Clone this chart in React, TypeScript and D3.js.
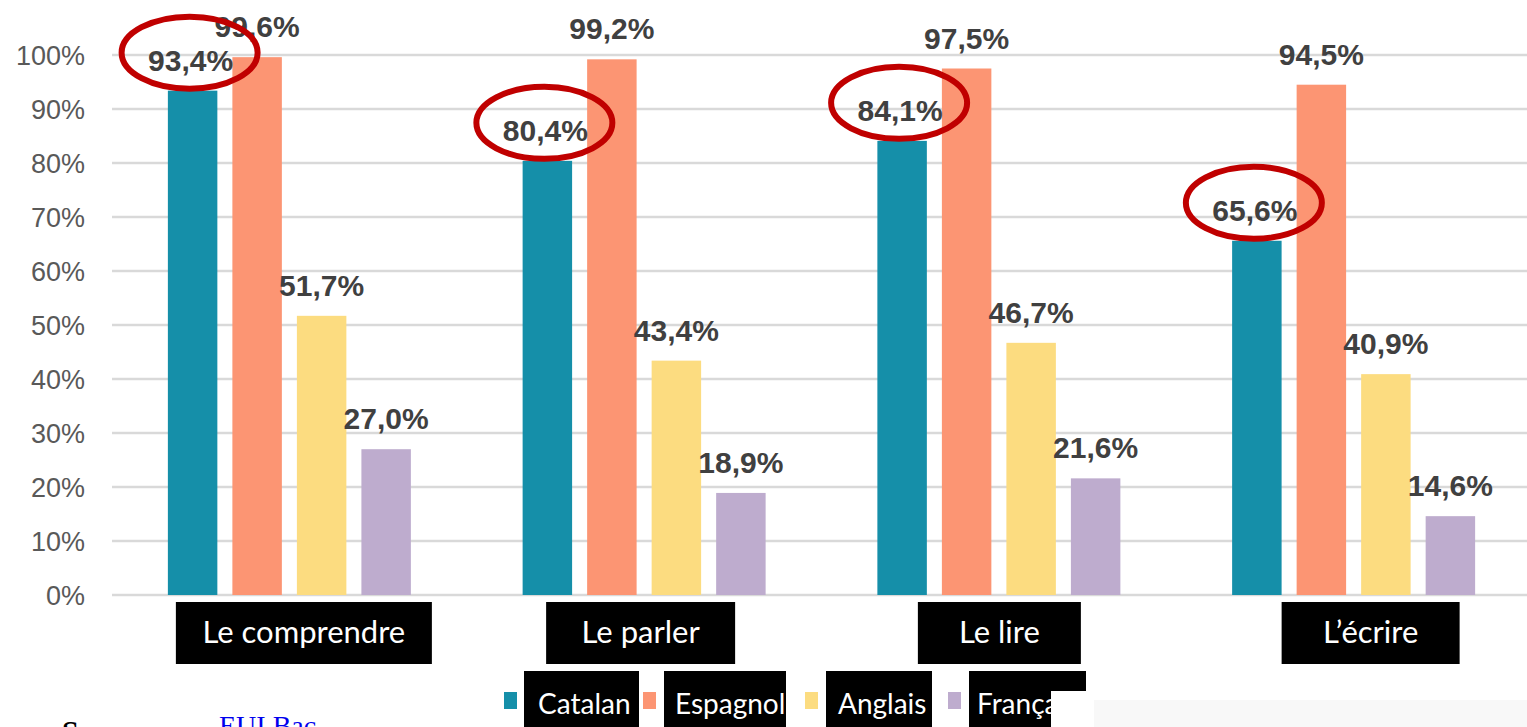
import React from "react";
import * as d3 from "d3";

// ---- data ----
const categories = ["Le comprendre", "Le parler", "Le lire", "L\u2019écrire"];
const seriesNames = ["Catalan", "Espagnol", "Anglais", "Français"];
const catalan = [93.4, 80.4, 84.1, 65.6];
const espagnol = [99.6, 99.2, 97.5, 94.5];
const anglais = [51.7, 43.4, 46.7, 40.9];
const francais = [27.0, 18.9, 21.6, 14.6];
const yTicks = [0, 10, 20, 30, 40, 50, 60, 70, 80, 90, 100];
const highlighted = ["Catalan"];

// ---- styles / layout ----
const W = 1527;
const H = 727;
const colors: Record<string, string> = {
  Catalan: "#158FA9",
  Espagnol: "#FC9573",
  Anglais: "#FCDC80",
  Français: "#BEACCE",
};
const catBoxLayout = [
  { dx: 14.5, w: 256 },
  { dx: -3.5, w: 189 },
  { dx: 0.5, w: 163 },
  { dx: 17, w: 178 },
];
const legendLayout = [
  { sq: 504, box: 524, w: 115, tx: 538 },
  { sq: 643, box: 664, w: 122, tx: 675 },
  { sq: 805, box: 826, w: 106, tx: 838 },
  { sq: 948, box: 969, w: 117, tx: 977 },
];

const fmt = (v: number) => v.toFixed(1).replace(".", ",") + "%";

export default function App() {
  const seriesValues = [catalan, espagnol, anglais, francais];
  const y = d3.scaleLinear().domain([0, 100]).range([595, 55]);
  const x0 = d3
    .scaleBand<string>()
    .domain(categories)
    .range([112, 1531])
    .paddingInner(0.315)
    .paddingOuter(0.1575);
  const x1 = d3
    .scaleBand<string>()
    .domain(seriesNames)
    .range([0, x0.bandwidth()])
    .paddingInner(0.233)
    .paddingOuter(0);

  const labelFont = "'Liberation Sans', Arial, sans-serif";
  const boxFont = "Lato, 'Open Sans', sans-serif";

  return (
    <svg
      width={W}
      height={H}
      style={{ position: "absolute", left: 0, top: 0, background: "#fff" }}
    >
      <rect x={0} y={0} width={W} height={H} fill="#fff" />
      {/* gridlines */}
      {yTicks.map((t) => (
        <line
          key={"g" + t}
          x1={112}
          x2={W}
          y1={y(t)}
          y2={y(t)}
          stroke="#D9D9D9"
          strokeWidth={2.5}
        />
      ))}
      {/* y tick labels */}
      {yTicks.map((t) => (
        <text
          key={"t" + t}
          x={85}
          y={y(t) + 9.5}
          textAnchor="end"
          fontFamily={labelFont}
          fontSize={27}
          fill="#595959"
        >
          {t}%
        </text>
      ))}
      {/* bars */}
      {categories.map((c, ci) => (
        <g key={c} transform={`translate(${x0(c)},0)`}>
          {seriesNames.map((s, si) => {
            const v = seriesValues[si][ci];
            return (
              <rect
                key={s}
                x={x1(s)}
                y={y(v)}
                width={x1.bandwidth()}
                height={y(0) - y(v)}
                fill={colors[s]}
              />
            );
          })}
        </g>
      ))}
      {/* value labels */}
      {categories.map((c, ci) =>
        seriesNames.map((s, si) => {
          const v = seriesValues[si][ci];
          const cx = (x0(c) as number) + (x1(s) as number) + x1.bandwidth() / 2;
          return (
            <text
              key={c + s + "l"}
              x={cx - (si === 0 ? 2 : 0)}
              y={y(v) - 20}
              textAnchor="middle"
              fontFamily={labelFont}
              fontWeight="bold"
              fontSize={30}
              fill="#404040"
            >
              {fmt(v)}
            </text>
          );
        })
      )}
      {/* red ellipses */}
      {categories.map((c, ci) =>
        seriesNames.map((s, si) => {
          if (!highlighted.includes(s)) return null;
          const v = seriesValues[si][ci];
          const cx = (x0(c) as number) + (x1(s) as number) + x1.bandwidth() / 2;
          return (
            <ellipse
              key={c + s + "e"}
              cx={cx - 3}
              cy={y(v) - 38}
              rx={68}
              ry={36}
              fill="none"
              stroke="#C00000"
              strokeWidth={6}
            />
          );
        })
      )}
      {/* category label boxes */}
      {categories.map((c, ci) => {
        const cx = (x0(c) as number) + x0.bandwidth() / 2 + catBoxLayout[ci].dx;
        const w = catBoxLayout[ci].w;
        return (
          <g key={c + "box"}>
            <rect x={cx - w / 2} y={602} width={w} height={62} fill="#000" />
            <text
              x={cx}
              y={643}
              textAnchor="middle"
              fontFamily={boxFont}
              fontSize={31}
              fill="#fff"
            >
              {c}
            </text>
          </g>
        );
      })}
      {/* legend */}
      {seriesNames.map((s, si) => {
        const l = legendLayout[si];
        return (
          <g key={s + "leg"}>
            <rect x={l.sq} y={692} width={13} height={17} fill={colors[s]} />
            <rect x={l.box} y={671} width={l.w} height={60} fill="#000" />
            <text
              x={l.tx}
              y={714}
              fontFamily={boxFont}
              fontSize={28}
              fill="#fff"
            >
              {s}
            </text>
          </g>
        );
      })}
      {/* overlays from the page */}
      <rect x={1051} y={691} width={43} height={40} fill="#fff" />
      <rect x={1094} y={700} width={433} height={30} fill="#F8F8F8" />
      {/* source line */}
      <text
        x={62}
        y={741}
        fontFamily="'Liberation Serif', 'Times New Roman', serif"
        fontWeight="bold"
        fontSize={30}
        fill="#000"
      >
        Source :
      </text>
      <text
        x={219}
        y={735}
        fontFamily="'Liberation Serif', 'Times New Roman', serif"
        fontSize={28}
        fill="#0000EE"
      >
        EUI Bac
      </text>
    </svg>
  );
}
